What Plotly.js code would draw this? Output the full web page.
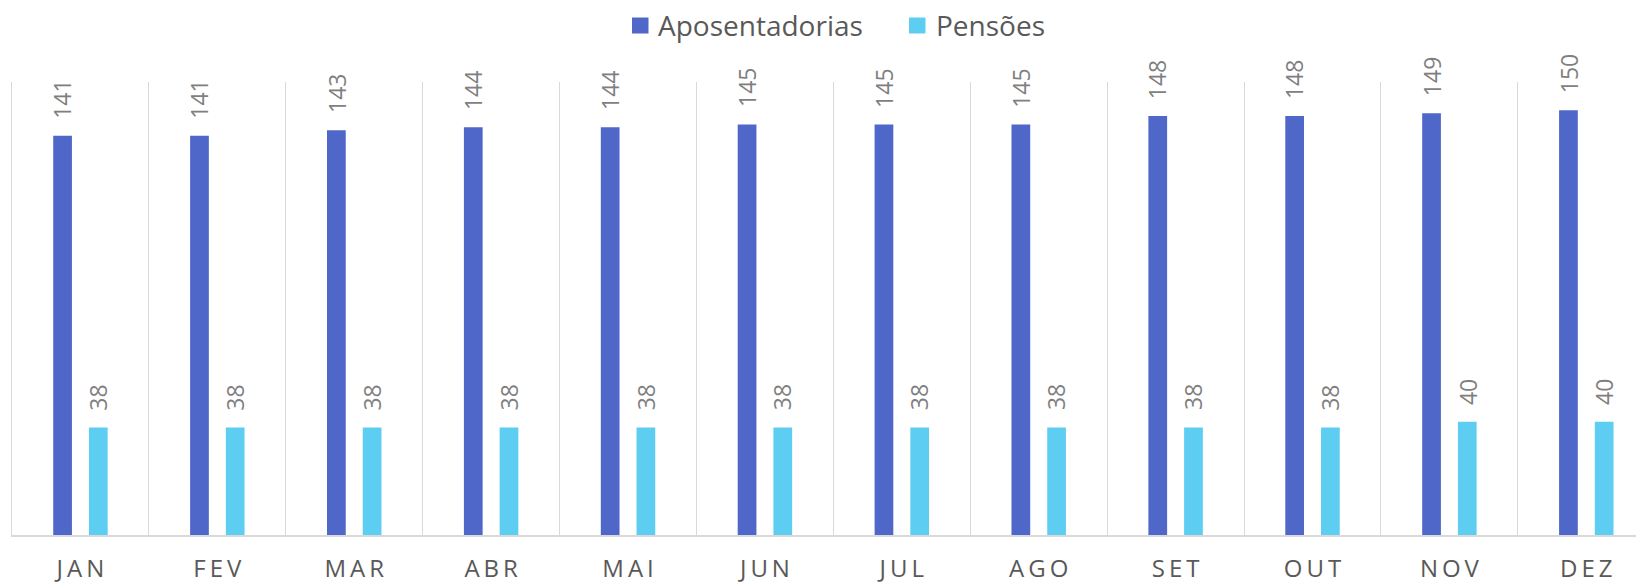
<!DOCTYPE html>
<html>
<head>
<meta charset="utf-8">
<script src="https://cdn.plot.ly/plotly-3.0.1.min.js"></script>
<style>html,body{margin:0;padding:0;background:#fff;}#chart{width:1636px;height:584px;}</style>
</head>
<body>
<div id="chart"></div>
<script>
var months = ["JAN","FEV","MAR","ABR","MAI","JUN","JUL","AGO","SET","OUT","NOV","DEZ"];
var aposentadorias = [141,141,143,144,144,145,145,145,148,148,149,150];
var pensoes = [38,38,38,38,38,38,38,38,38,38,40,40];
var seriesNames = ["Aposentadorias","Pensões"];
var colors = ["#4f67c8","#5ecdf2"];

var W = 1636, H = 584, ML = 12, MR = 0, MT = 82, MB = 49;
var PW = W - ML - MR, PH = H - MT - MB;
function px2x(p){ return (p - ML) / PW; }
function px2y(p){ return (H - MB - p) / PH; }

var traces = [
  {type:"bar", name:seriesNames[0], x:months, y:aposentadorias, marker:{color:colors[0]}, showlegend:false},
  {type:"bar", name:seriesNames[1], x:months, y:pensoes, marker:{color:colors[1]}, showlegend:false}
];

var annotations = [];
[aposentadorias, pensoes].forEach(function(arr, si){
  arr.forEach(function(v, i){
    annotations.push({
      xref:"x", yref:"y", x:months[i], y:v, text:String(v),
      showarrow:false, textangle:-90, xanchor:"center", yanchor:"bottom",
      xshift: si===0 ? -17.9 : 17.9, yshift:15,
      font:{family:"Open Sans, sans-serif", size:23, color:"#7f7f7f"}
    });
  });
});

// custom legend
var legendItems = [{sq:632, tx:656}, {sq:909, tx:934}];
var shapes = [];
legendItems.forEach(function(it, si){
  shapes.push({type:"rect", xref:"paper", yref:"paper",
    x0:px2x(it.sq), x1:px2x(it.sq+16.5), y0:px2y(33.5), y1:px2y(17.5),
    fillcolor:colors[si], line:{width:0}});
  annotations.push({xref:"paper", yref:"paper", x:px2x(it.tx), y:px2y(25.5),
    xanchor:"left", yanchor:"middle", showarrow:false, text:seriesNames[si],
    font:{family:"Open Sans, sans-serif", size:28, color:"#595959"}});
});

var layout = {
  width:W, height:H,
  margin:{l:ML, r:MR, t:MT, b:MB},
  paper_bgcolor:"#ffffff", plot_bgcolor:"#ffffff",
  barmode:"group", bargap:0.478, bargroupgap:0.476,
  showlegend:false,
  xaxis:{
    type:"category", range:[-0.5, 11.363], tickson:"boundaries",
    showgrid:true, gridcolor:"#d9d9d9", gridwidth:1,
    showline:true, linecolor:"#d9d9d9", linewidth:2,
    ticks:"", tickvals:months, ticklabelstandoff:11,
    ticktext:months.map(function(m){return m.split("").join("\u2009");}),
    tickfont:{family:"Open Sans, sans-serif", size:24, color:"#595959"},
    fixedrange:true
  },
  yaxis:{
    range:[0,160], showgrid:false, zeroline:false, showticklabels:false,
    showline:true, linecolor:"#d9d9d9", linewidth:1, ticks:"", fixedrange:true
  },
  shapes:shapes,
  annotations:annotations
};

Plotly.newPlot("chart", traces, layout, {displayModeBar:false, staticPlot:true});
</script>
</body>
</html>
